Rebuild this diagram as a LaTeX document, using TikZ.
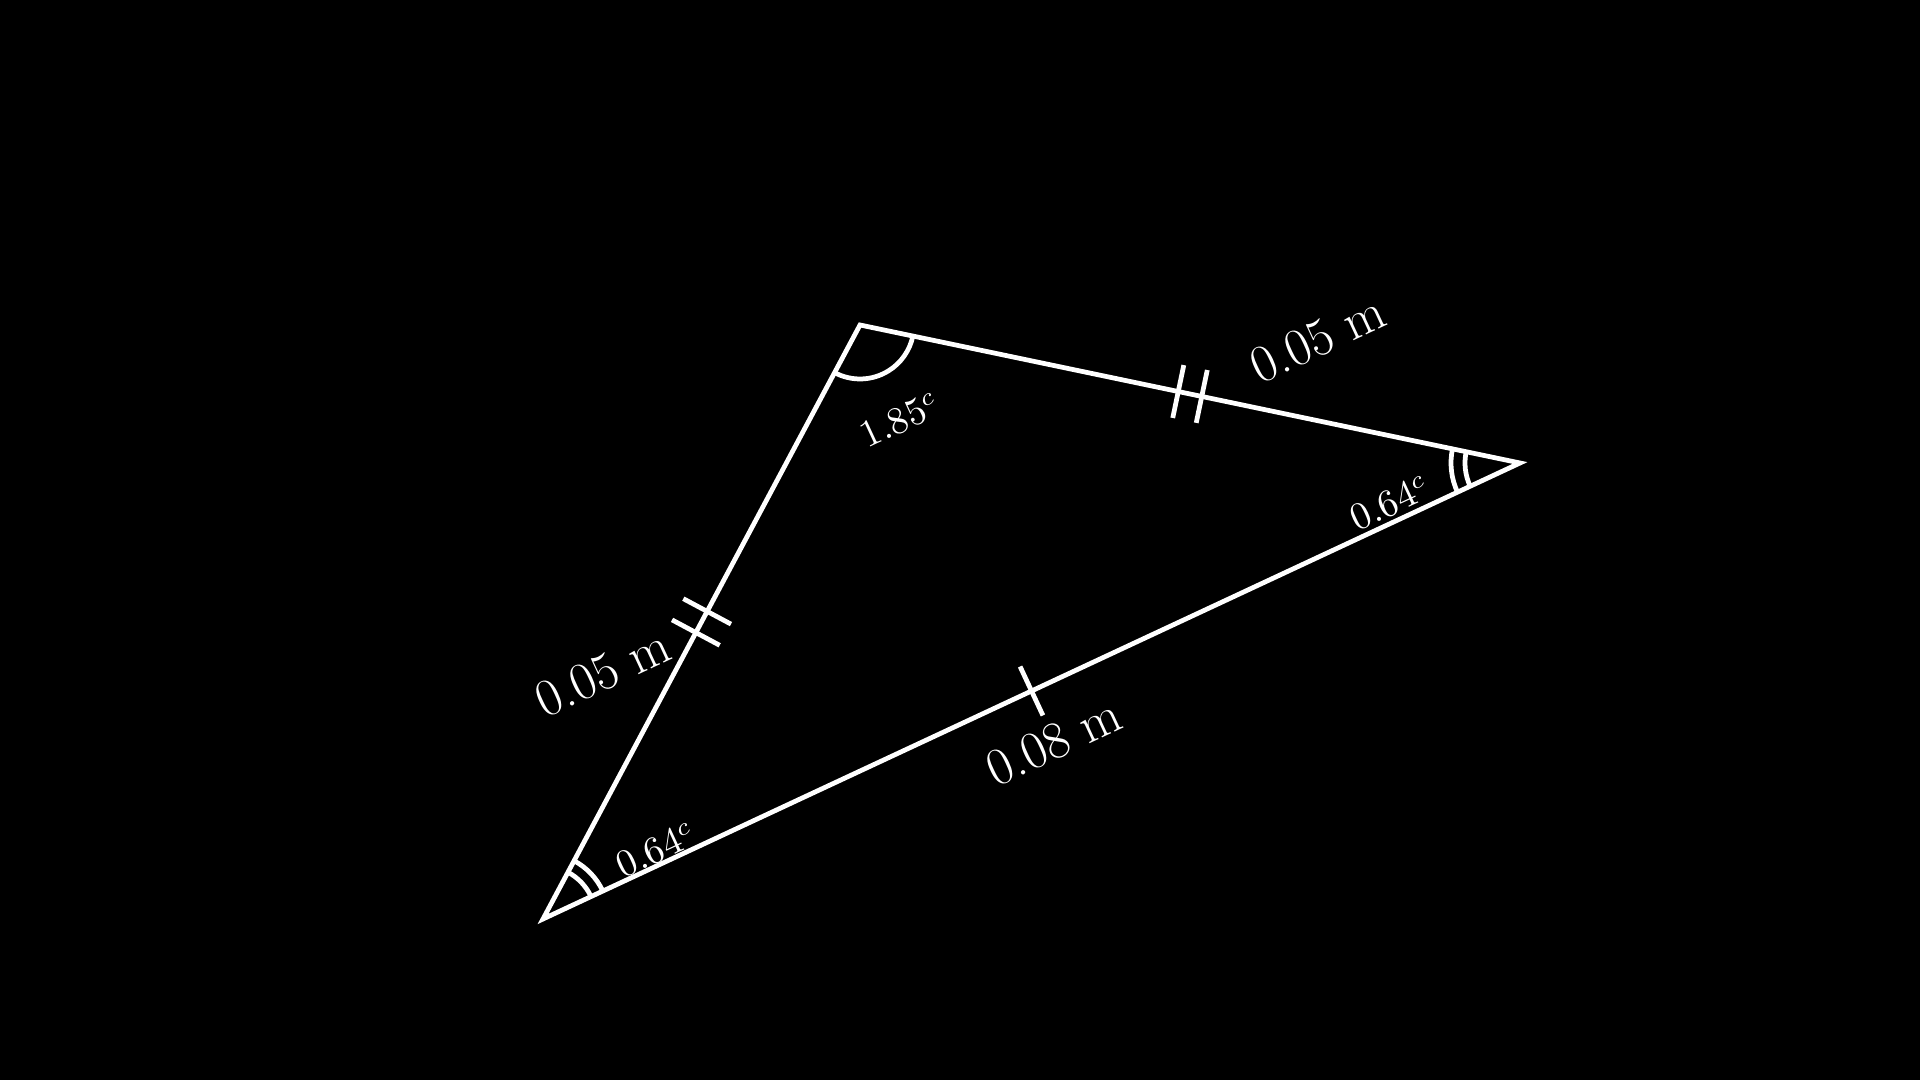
\documentclass[tikz,border=0pt]{standalone}
\usepackage{tikz}
\usepackage{xcolor}
\usetikzlibrary{angles}

\tikzset{
	tickone/.pic={\draw (0,-0.27) -- (0,0.27);},
	ticktwo/.pic={\draw (-0.12,-0.27) -- (-0.12,0.27) (0.12,-0.27) -- (0.12,0.27);},
	side/.style={rotate=25,font=\fontsize{15}{18}\selectfont},
	ang/.style={rotate=25,font=\fontsize{10.5}{12}\selectfont}
}

\begin{document}
\begin{tikzpicture}[white, line width=1.35pt]
	\fill[black] (0,0) rectangle (19.2,10.8);
	\coordinate (A) at (5.43,1.61);
	\coordinate (B) at (8.60,7.55);
	\coordinate (C) at (15.20,6.17);
	%\node (A) {$A$};

	\draw (A) -- (B) -- (C) -- cycle;
	\path (A) -- (B) pic[pos=0.5,sloped] {ticktwo};
	\path (B) -- (C) pic[pos=0.5,sloped] {ticktwo};
	\path (A) -- (C) pic[pos=0.5,sloped] {tickone};

	\pic[draw, angle radius=0.54cm] {angle=A--B--C};
	\pic[draw, angle radius=0.53cm] {angle=C--A--B};
	\pic[draw, angle radius=0.66cm] {angle=C--A--B};
	\pic[draw, angle radius=0.55cm] {angle=B--C--A};
	\pic[draw, angle radius=0.69cm] {angle=B--C--A};

	\node[side] (ab) at (6.03,4.07) {0.05 m};
	\node[side] (bc) at (13.18,7.41) {0.05 m};
	\node[side] (ac) at (10.54,3.38) {0.08 m};
	\node[ang] (angb) at (9.00,6.60) {$1.85^c$};
	\node[ang] (anga) at (6.56,2.30) {$0.64^c$};
	\node[ang] (angc) at (13.90,5.77) {$0.64^c$};
\end{tikzpicture}
\end{document}
